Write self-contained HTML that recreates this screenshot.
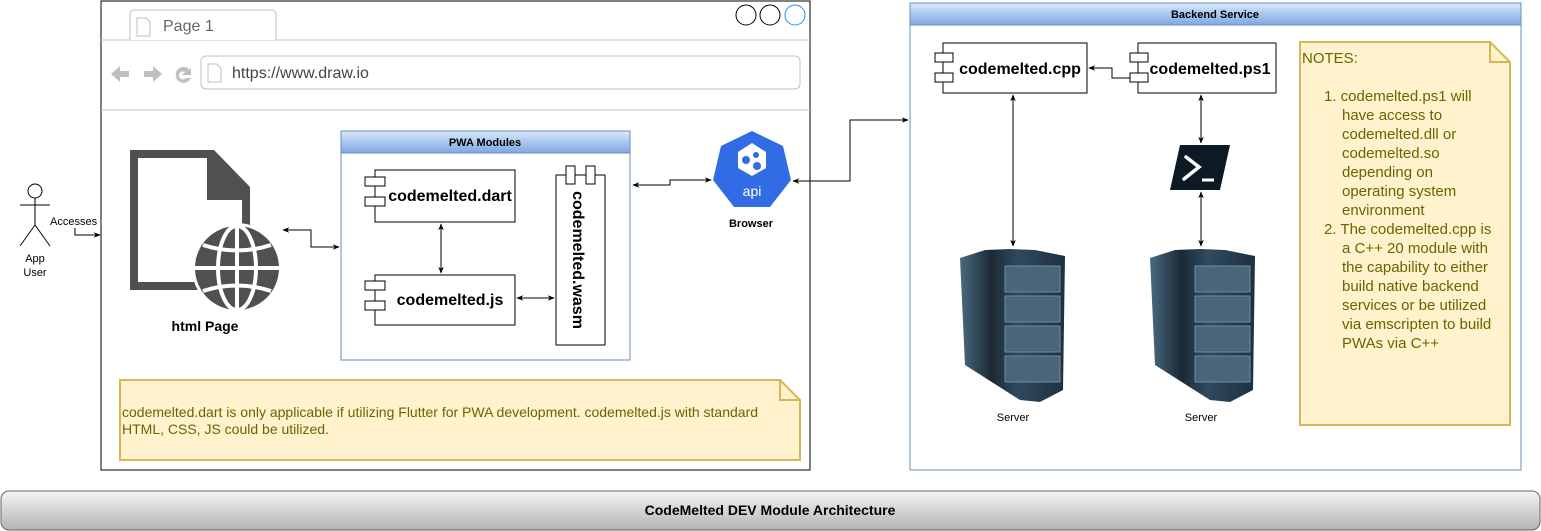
<!DOCTYPE html>
<html><head><meta charset="utf-8"><style>
html,body{margin:0;padding:0;background:#fff;width:1541px;height:531px;overflow:hidden}
svg{display:block;font-family:"Liberation Sans",sans-serif}
</style></head><body>
<svg width="1541" height="531" viewBox="0 0 1541 531" xmlns="http://www.w3.org/2000/svg">
<defs>
<linearGradient id="hb" x1="0" y1="0" x2="0" y2="1"><stop offset="0" stop-color="#dae8fc"/><stop offset="1" stop-color="#7ea6e0"/></linearGradient>
<linearGradient id="ft" x1="0" y1="0" x2="0" y2="1"><stop offset="0" stop-color="#f5f5f5"/><stop offset="1" stop-color="#b3b3b3"/></linearGradient>
<linearGradient id="srv" x1="0" y1="0" x2="1" y2="0"><stop offset="0" stop-color="#4a6a80"/><stop offset="0.3" stop-color="#1b2a36"/><stop offset="0.55" stop-color="#2f4a5e"/><stop offset="1" stop-color="#1e3040"/></linearGradient>
<marker id="a" viewBox="0 0 10 10" refX="9" refY="5" markerWidth="7" markerHeight="7" orient="auto-start-reverse"><path d="M0,1 L10,5 L0,9 L3,5z" fill="#000"/></marker>
</defs>

<rect x="101" y="1" width="709" height="469" fill="#fff" stroke="#000" stroke-width="1"/>
<line x1="101" y1="40" x2="810" y2="40" stroke="#c0c0c0"/>
<path d="M130,40 V14 a4,4 0 0 1 4,-4 H272 a4,4 0 0 1 4,4 V40" fill="#fff" stroke="#c0c0c0"/>
<path d="M137,18 h9 l4,4 v14 h-13z" fill="#fff" stroke="#c0c0c0"/>
<text x="163" y="31" font-size="16" fill="#666">Page 1</text>
<circle cx="746" cy="15" r="10" fill="#fff" stroke="#000"/>
<circle cx="770" cy="15" r="10" fill="#fff" stroke="#000"/>
<circle cx="795" cy="15" r="10" fill="#fff" stroke="#1e90ff"/>
<path d="M111,74 l9,-8 v5 h9 v6 h-9 v5z" fill="#c0c0c0"/>
<path d="M162,74 l-9,-8 v5 h-9 v6 h9 v5z" fill="#c0c0c0"/>
<path d="M190,70 a8,8 0 1 0 1,8 h-5 a4,4 0 1 1 -1,-6 l-3,3 h9 v-9z" fill="#c0c0c0"/>
<rect x="201" y="56" width="599" height="33" rx="5" fill="#fff" stroke="#c0c0c0"/>
<path d="M208,64 h9 l4,4 v14 h-13z" fill="#fff" stroke="#c0c0c0"/>
<text x="232" y="78" font-size="16" fill="#444">https://www.draw.io</text>
<line x1="101" y1="110" x2="810" y2="110" stroke="#c0c0c0"/>

<g stroke="#000" fill="#fff" stroke-width="1">
<circle cx="35" cy="191" r="7"/>
<line x1="35" y1="198" x2="35" y2="225"/>
<line x1="20" y1="205" x2="50" y2="205"/>
<line x1="35" y1="225" x2="20" y2="246"/>
<line x1="35" y1="225" x2="50" y2="246"/>
</g>
<text x="35" y="262" font-size="11" text-anchor="middle">App</text>
<text x="35" y="276" font-size="11" text-anchor="middle">User</text>
<path d="M75,226 V235 H100" fill="none" stroke="#000" marker-end="url(#a)"/>
<rect x="50" y="214" width="50" height="14" fill="#fff"/>
<text x="50" y="225" font-size="11">Accesses</text>

<path d="M130,150 H214 L250,187 V290 H130z" fill="#505050"/>
<path d="M138,158 H207 V200 H242 V282 H138z" fill="#fff"/>
<circle cx="237" cy="268" r="45" fill="#fff"/>
<circle cx="237" cy="268" r="42" fill="#505050"/>
<g stroke="#fff" stroke-width="4" fill="none">
<ellipse cx="237" cy="268" rx="19" ry="42"/>
<line x1="237" y1="226" x2="237" y2="310"/>
<line x1="195" y1="268" x2="279" y2="268"/>
<path d="M203,245 Q237,256 271,245"/>
<path d="M203,291 Q237,280 271,291"/>
</g>
<text x="205" y="331" font-size="14" font-weight="bold" text-anchor="middle">html Page</text>

<rect x="341" y="131" width="289" height="229" fill="#fff" stroke="#6c8ebf"/>
<rect x="341" y="131" width="289" height="22" fill="url(#hb)" stroke="#6c8ebf"/>
<text x="485" y="146" font-size="11" font-weight="bold" text-anchor="middle">PWA Modules</text>
<rect x="375" y="170" width="140" height="52" fill="#fff" stroke="#000"/>
<rect x="365" y="177" width="20" height="9" fill="#fff" stroke="#000"/>
<rect x="365" y="197" width="20" height="9" fill="#fff" stroke="#000"/>
<text x="450" y="201" font-size="16" font-weight="bold" text-anchor="middle">codemelted.dart</text>
<rect x="375" y="275" width="140" height="50" fill="#fff" stroke="#000"/>
<rect x="365" y="281" width="20" height="9" fill="#fff" stroke="#000"/>
<rect x="365" y="301" width="20" height="9" fill="#fff" stroke="#000"/>
<text x="450" y="305" font-size="16" font-weight="bold" text-anchor="middle">codemelted.js</text>
<rect x="556" y="175" width="49" height="170" fill="#fff" stroke="#000"/>
<rect x="566" y="166" width="9" height="18" fill="#fff" stroke="#000"/>
<rect x="586" y="166" width="9" height="18" fill="#fff" stroke="#000"/>
<text transform="translate(573,260) rotate(90)" font-size="16" font-weight="bold" text-anchor="middle">codemelted.wasm</text>
<line x1="441" y1="224" x2="441" y2="273" stroke="#000" marker-start="url(#a)" marker-end="url(#a)"/>
<line x1="517" y1="298" x2="554" y2="298" stroke="#000" marker-start="url(#a)" marker-end="url(#a)"/>
<path d="M283,230 H311 V247 H339" fill="none" stroke="#000" marker-start="url(#a)" marker-end="url(#a)"/>
<path d="M633,185 H670 V180 H711" fill="none" stroke="#000" marker-start="url(#a)" marker-end="url(#a)"/>

<polygon points="752,131 783,146 791,180 770,207 734,207 713,180 721,146" fill="#326ce5"/>
<polygon points="752,143 766,152 766,168 752,176 738,168 738,152" fill="#fff"/>
<g fill="#326ce5"><circle cx="746" cy="160" r="4"/><circle cx="756" cy="155" r="3"/><circle cx="757" cy="166" r="4"/></g>
<text x="752" y="196" font-size="14" fill="#fff" text-anchor="middle">api</text>
<text x="751" y="227" font-size="11" font-weight="bold" text-anchor="middle">Browser</text>
<path d="M793,181 H850 V120 H908" fill="none" stroke="#000" marker-start="url(#a)" marker-end="url(#a)"/>

<path d="M120,380 H780 L800,400 V460 H120z" fill="#fff2cc" stroke="#d6b656" stroke-width="2"/>
<path d="M780,380 V400 H800" fill="none" stroke="#d6b656" stroke-width="2"/>
<text font-size="14" fill="#666600"><tspan x="122" y="417">codemelted.dart is only applicable if utilizing Flutter for PWA development. codemelted.js with standard</tspan><tspan x="122" y="434">HTML, CSS, JS could be utilized.</tspan></text>

<rect x="910" y="3" width="611" height="467" fill="#fff" stroke="#6c8ebf"/>
<rect x="910" y="3" width="611" height="22" fill="url(#hb)" stroke="#6c8ebf"/>
<text x="1215" y="18" font-size="11" font-weight="bold" text-anchor="middle">Backend Service</text>
<rect x="943" y="43" width="144" height="50" fill="#fff" stroke="#000"/>
<rect x="935" y="53" width="18" height="9" fill="#fff" stroke="#000"/>
<rect x="935" y="73" width="18" height="9" fill="#fff" stroke="#000"/>
<text x="1020" y="74" font-size="16" font-weight="bold" text-anchor="middle">codemelted.cpp</text>
<rect x="1138" y="43" width="138" height="50" fill="#fff" stroke="#000"/>
<rect x="1130" y="53" width="18" height="9" fill="#fff" stroke="#000"/>
<rect x="1130" y="73" width="18" height="9" fill="#fff" stroke="#000"/>
<text x="1210" y="74" font-size="16" font-weight="bold" text-anchor="middle">codemelted.ps1</text>
<path d="M1130,78 H1112 V68 H1089" fill="none" stroke="#000" marker-end="url(#a)"/>
<line x1="1013" y1="95" x2="1013" y2="246" stroke="#000" marker-start="url(#a)" marker-end="url(#a)"/>
<line x1="1201" y1="95" x2="1201" y2="143" stroke="#000" marker-start="url(#a)" marker-end="url(#a)"/>
<line x1="1201" y1="192" x2="1201" y2="246" stroke="#000" marker-start="url(#a)" marker-end="url(#a)"/>
<polygon points="1180,145 1230,145 1220,190 1170,190" fill="#0d1a26"/>
<path d="M1186,157 L1199,167 L1184,179" fill="none" stroke="#fff" stroke-width="3.5" stroke-linecap="round"/>
<line x1="1202" y1="180" x2="1214" y2="180" stroke="#fff" stroke-width="3"/>
<g>
<polygon points="960,258 985,250 1010,249 1035,250 1065,256 1063,390 1040,402 1020,400 965,365" fill="url(#srv)"/>
<g fill="#4a6478" stroke="#6f8ba0" stroke-width="1">
<rect x="1005" y="266" width="55" height="26"/><rect x="1005" y="296" width="55" height="26"/><rect x="1005" y="326" width="55" height="26"/><rect x="1005" y="356" width="55" height="26"/>
</g></g>
<g transform="translate(190,0)">
<polygon points="960,258 985,250 1010,249 1035,250 1065,256 1063,390 1040,402 1020,400 965,365" fill="url(#srv)"/>
<g fill="#4a6478" stroke="#6f8ba0" stroke-width="1">
<rect x="1005" y="266" width="55" height="26"/><rect x="1005" y="296" width="55" height="26"/><rect x="1005" y="326" width="55" height="26"/><rect x="1005" y="356" width="55" height="26"/>
</g></g>
<text x="1013" y="421" font-size="11" text-anchor="middle">Server</text>
<text x="1201" y="421" font-size="11" text-anchor="middle">Server</text>

<path d="M1300,42 H1490 L1510,62 V425 H1300z" fill="#fff2cc" stroke="#d6b656" stroke-width="2"/>
<path d="M1490,42 V62 H1510" fill="none" stroke="#d6b656" stroke-width="2"/>
<text font-size="15" fill="#666600">
<tspan x="1302" y="63">NOTES:</tspan>
<tspan x="1324" y="101">1. codemelted.ps1 will</tspan>
<tspan x="1342" y="120">have access to</tspan>
<tspan x="1342" y="139">codemelted.dll or</tspan>
<tspan x="1342" y="158">codemelted.so</tspan>
<tspan x="1342" y="177">depending on</tspan>
<tspan x="1342" y="196">operating system</tspan>
<tspan x="1342" y="215">environment</tspan>
<tspan x="1324" y="234">2. The codemelted.cpp is</tspan>
<tspan x="1342" y="253">a C++ 20 module with</tspan>
<tspan x="1342" y="272">the capability to either</tspan>
<tspan x="1342" y="291">build native backend</tspan>
<tspan x="1342" y="310">services or be utilized</tspan>
<tspan x="1342" y="329">via emscripten to build</tspan>
<tspan x="1342" y="348">PWAs via C++</tspan>
</text>

<rect x="1" y="491" width="1539" height="39" rx="8" fill="url(#ft)" stroke="#666"/>
<text x="770" y="515" font-size="14" font-weight="bold" text-anchor="middle">CodeMelted DEV Module Architecture</text>
</svg>
</body></html>
